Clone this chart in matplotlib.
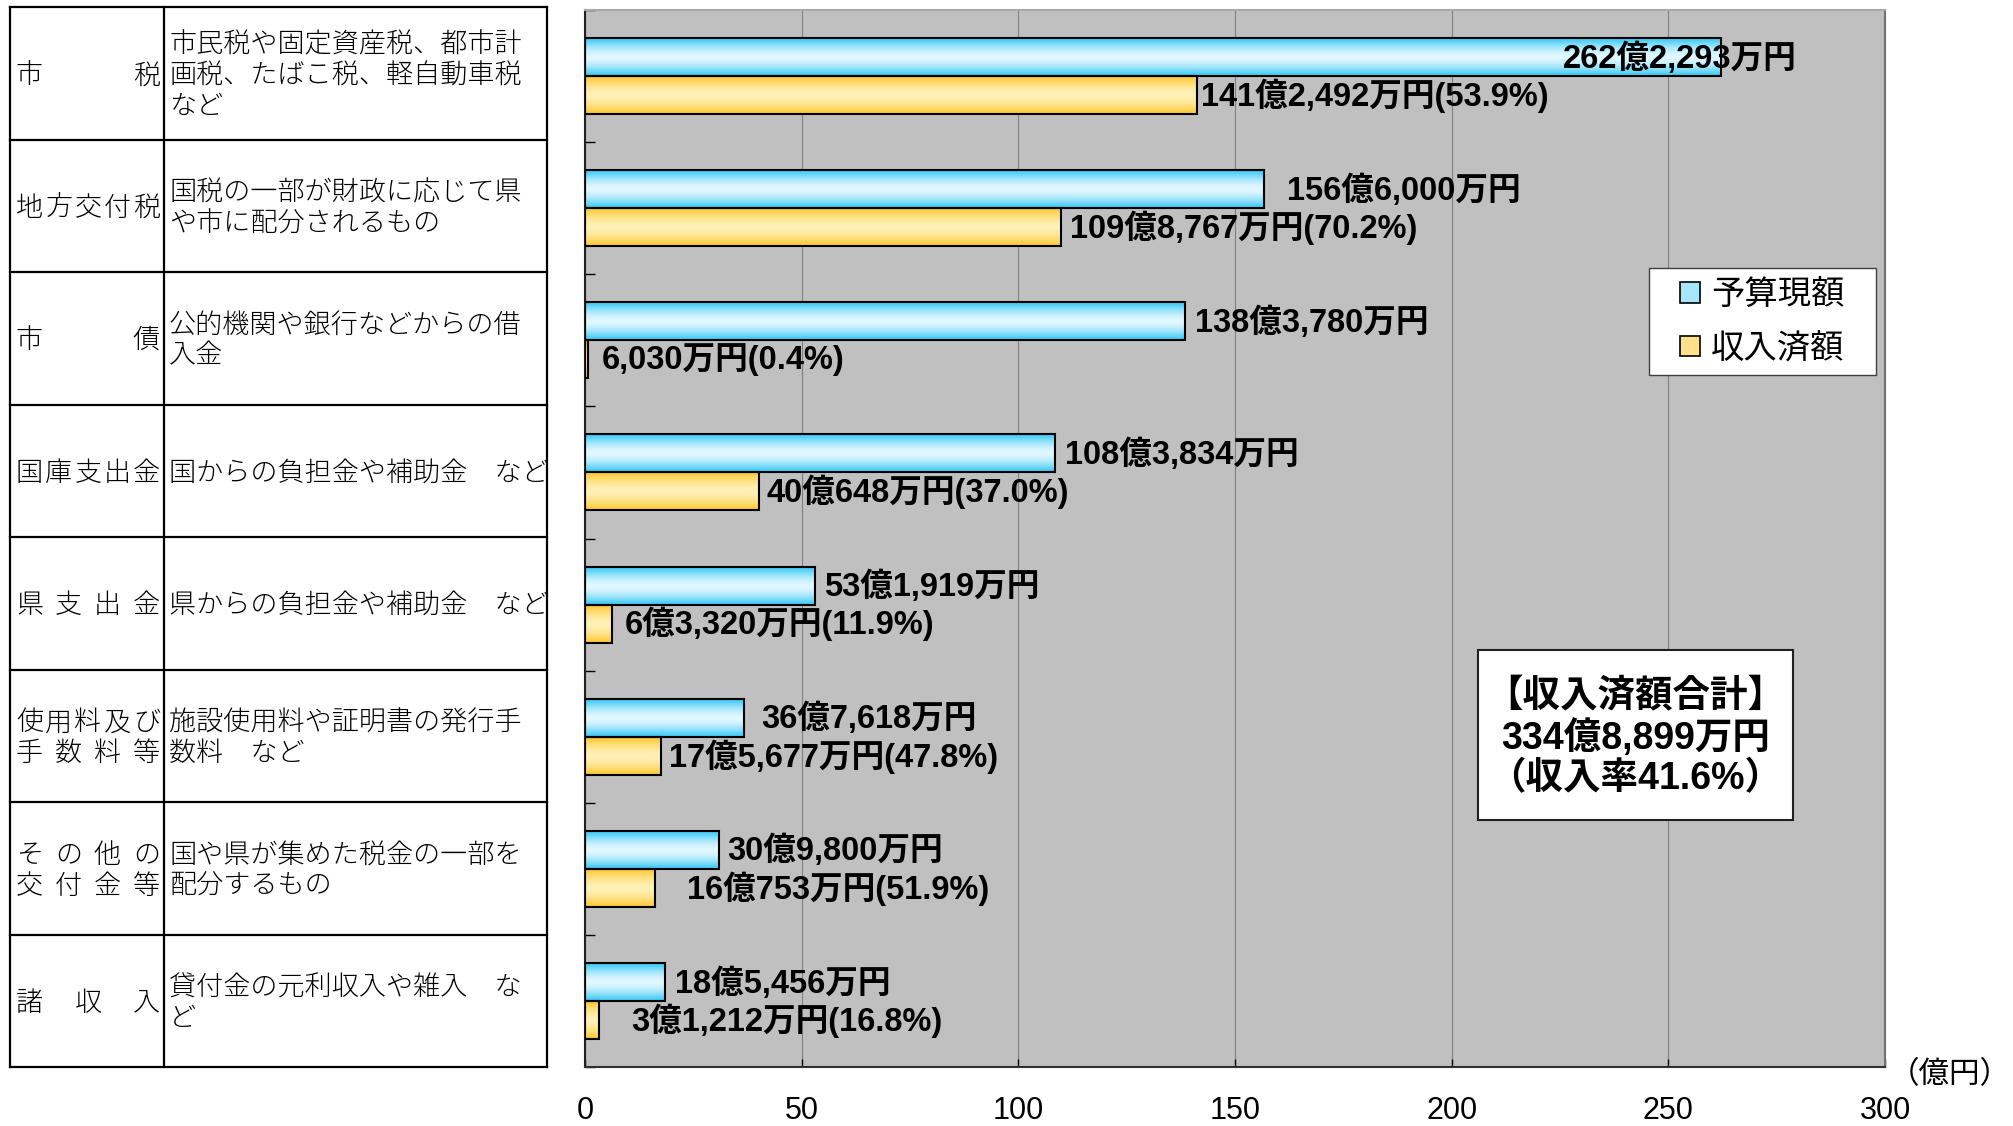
import numpy as np
import matplotlib
matplotlib.use("Agg")
from matplotlib import pyplot as plt
from matplotlib import font_manager
from matplotlib.patches import Rectangle, Patch
from matplotlib.lines import Line2D

# 歳入の内訳 (単位: 万円)
categories = ["市税", "地方交付税", "市債", "国庫支出金", "県支出金",
              "使用料及び手数料等", "その他の交付金等", "諸収入"]
cat_lines = [["市税"], ["地方交付税"], ["市債"], ["国庫支出金"], ["県支出金"],
             ["使用料及び", "手数料等"], ["その他の", "交付金等"], ["諸収入"]]
descriptions = [
    ["市民税や固定資産税、都市計", "画税、たばこ税、軽自動車税", "など"],
    ["国税の一部が財政に応じて県", "や市に配分されるもの"],
    ["公的機関や銀行などからの借", "入金"],
    ["国からの負担金や補助金　など"],
    ["県からの負担金や補助金　など"],
    ["施設使用料や証明書の発行手", "数料　など"],
    ["国や県が集めた税金の一部を", "配分するもの"],
    ["貸付金の元利収入や雑入　な", "ど"],
]
budget_man = [2622293, 1566000, 1383780, 1083834, 531919, 367618, 309800, 185456]
received_man = [1412492, 1098767, 6030, 400648, 63320, 175677, 160753, 31212]
received_pct = [53.9, 70.2, 0.4, 37.0, 11.9, 47.8, 51.9, 16.8]
series_names = ["予算現額", "収入済額"]
x_ticks = [0, 50, 100, 150, 200, 250, 300]

W, H, DPI = 2013, 1126, 100
names = {f.name for f in font_manager.fontManager.ttflist}
narrow = "Liberation Sans Narrow" in names
num_font = "Liberation Sans Narrow" if narrow else "Liberation Sans"
label_family = [num_font, "Noto Sans CJK JP"]
label_size = 26 if narrow else 23.5
jp = ["Noto Sans CJK JP", "DejaVu Sans"]
plt.rcParams["font.family"] = jp


def fmt_man(v):
    oku, man = divmod(v, 10000)
    if oku:
        return f"{oku}億{man:,}万円"
    return f"{man:,}万円"


def gradient(edge, mid, n=64):
    s = np.linspace(0, 1, n)
    t = np.abs(2 * s - 1) ** 1.6
    e = np.array(matplotlib.colors.to_rgb(edge))
    m = np.array(matplotlib.colors.to_rgb(mid))
    return (m + (e - m) * t[:, None])[:, None, :]


fig = plt.figure(figsize=(W / DPI, H / DPI), dpi=DPI)
fig.patch.set_facecolor("white")

# main chart
px_l, px_r, px_t, px_b = 585, 1885, 10, 1067
ax = fig.add_axes([px_l / W, 1 - px_b / H, (px_r - px_l) / W, (px_b - px_t) / H])
ax.set_facecolor("#C0C0C0")

budget = np.array(budget_man) / 10000
received = np.array(received_man) / 10000
n = len(categories)
centers = np.arange(n) + 0.5
h = 0.2875

bars_b = ax.barh(centers - h / 2, budget, height=h, facecolor="none",
                 edgecolor="black", linewidth=1.5, zorder=3)
bars_r = ax.barh(centers + h / 2, received, height=h, facecolor="none",
                 edgecolor="black", linewidth=1.5, zorder=3)
grad_b = gradient("#2EC6F6", "#E2F8FF")
grad_r = gradient("#FFC62A", "#FFF1B8")
for bars, g in [(bars_b, grad_b), (bars_r, grad_r)]:
    for p in bars:
        x0, y0, w, hh = p.get_x(), p.get_y(), p.get_width(), p.get_height()
        ax.imshow(g, extent=[x0, x0 + w, y0 + hh, y0], aspect="auto",
                  interpolation="bilinear", zorder=2)

ax.set_xlim(0, 300)
ax.set_ylim(n, 0)
ax.set_xticks(x_ticks)
ax.set_xticklabels([str(t) for t in x_ticks], fontsize=22, family="Liberation Sans")
ax.set_yticks(np.arange(n + 1))
ax.set_yticklabels([])
ax.tick_params(axis="x", direction="in", length=5.8, width=1, pad=21, colors="black")
ax.tick_params(axis="y", direction="in", length=7.2, width=1, colors="black")
ax.grid(axis="x", color="#808080", linewidth=0.8)
ax.grid(axis="y", visible=False)
ax.set_axisbelow(True)
for side, col in [("left", "#202020"), ("bottom", "#303030"),
                  ("top", "#A8A8A8"), ("right", "#707070")]:
    ax.spines[side].set_color(col)
    ax.spines[side].set_linewidth(1.5)

# value labels
off_b = [-158, 23, 10, 10, 9, 17, 8, 10]
off_r = [4, 9, 14, 8, 12, 8, 32, 33]
for i in range(n):
    ax.annotate(fmt_man(budget_man[i]), (budget[i], centers[i] - h / 2),
                xytext=(off_b[i] * 72 / DPI, -1), textcoords="offset points",
                ha="left", va="center", fontsize=label_size, fontweight="bold",
                family=label_family, zorder=5)
    ax.annotate(f"{fmt_man(received_man[i])}({received_pct[i]:.1f}%)",
                (received[i], centers[i] + h / 2),
                xytext=(off_r[i] * 72 / DPI, -0.5), textcoords="offset points",
                ha="left", va="center", fontsize=label_size, fontweight="bold",
                family=label_family, zorder=5)

# legend
lx0, lx1, ly0, ly1 = 1649, 1876, 268, 375
ax.add_patch(Rectangle((lx0 / W, 1 - ly1 / H), (lx1 - lx0) / W, (ly1 - ly0) / H,
                       transform=fig.transFigure, facecolor="white",
                       edgecolor="#404040", linewidth=1, zorder=6, clip_on=False))
handles = [Patch(facecolor="#A6E6FB", edgecolor="black", linewidth=1.2),
           Patch(facecolor="#FFE18A", edgecolor="black", linewidth=1.2)]
leg = ax.legend(handles, series_names, loc="center",
                bbox_to_anchor=((lx0 + lx1) / 2 / W, 1 - (ly0 + ly1) / 2 / H),
                bbox_transform=fig.transFigure, frameon=False,
                prop={"family": jp, "size": 24},
                handlelength=0.58, handleheight=0.58, handletextpad=0.35,
                labelspacing=0.55, borderpad=0)
leg.set_zorder(7)

# overlay in pixel coordinates: table, total box, unit
ov = fig.add_axes([0, 0, 1, 1])
ov.set_xlim(0, W)
ov.set_ylim(H, 0)
ov.axis("off")

tx0, tx1, tx2 = 10, 164, 547
ty0, ty1 = 7, 1067
row_h = (ty1 - ty0) / n
lw_tab = 1.6
for k in range(n + 1):
    y = ty0 + k * row_h
    ov.add_line(Line2D([tx0, tx2], [y, y], color="black", linewidth=lw_tab))
for x in (tx0, tx1, tx2):
    ov.add_line(Line2D([x, x], [ty0, ty1], color="black", linewidth=lw_tab))

fs_tab = 19.5
ch_px = fs_tab * DPI / 72
line_gap = 31
for i in range(n):
    yc = ty0 + (i + 0.5) * row_h + 2
    lines = cat_lines[i]
    for j, line in enumerate(lines):
        y = yc + (j - (len(lines) - 1) / 2) * line_gap
        a, b = tx0 + 6 + ch_px / 2, tx1 - 4 - ch_px / 2
        xs = np.linspace(a, b, len(line)) if len(line) > 1 else [(a + b) / 2]
        for ch, x in zip(line, xs):
            ov.text(x, y, ch, ha="center", va="center", fontsize=fs_tab,
                    fontweight="light", family=jp)
    lines = descriptions[i]
    for j, line in enumerate(lines):
        y = yc + (j - (len(lines) - 1) / 2) * line_gap
        ov.text(tx1 + 5, y, line, ha="left", va="center", fontsize=fs_tab,
                fontweight="light", family=jp)

# total box
bx0, bx1, by0, by1 = 1478, 1793, 650, 820
ov.add_patch(Rectangle((bx0, by0), bx1 - bx0, by1 - by0, facecolor="white",
                       edgecolor="#202020", linewidth=1.5))
total = sum(received_man)
rate = total / sum(budget_man) * 100
for y, s in [(697, "【収入済額合計】"), (738, fmt_man(total)),
             (779, f"（収入率{rate:.1f}%）")]:
    ov.text((bx0 + bx1) / 2, y, s, ha="center", va="center", fontsize=27,
            fontweight="bold", family=label_family)

ov.text(1950, 1075, "（億円）", ha="center", va="center", fontsize=22, family=jp)

fig.savefig("out.png", dpi=DPI)
